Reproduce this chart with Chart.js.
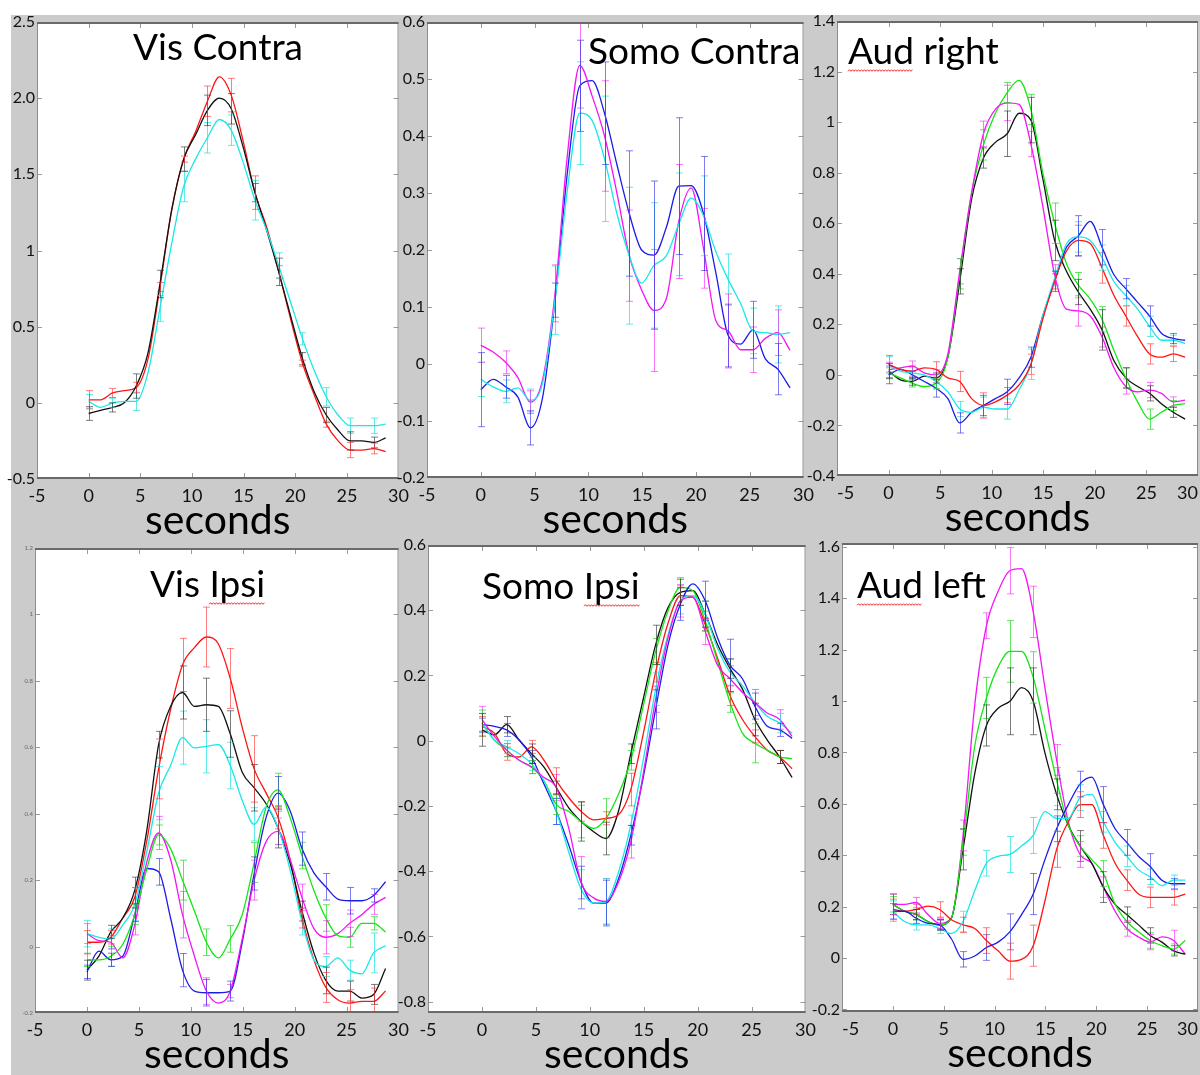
<!DOCTYPE html>
<html>
<head>
<meta charset="utf-8">
<script src="https://cdn.jsdelivr.net/npm/chart.js@4.4.1/dist/chart.umd.min.js"></script>
<style>
  html, body { margin: 0; padding: 0; width: 1200px; height: 1075px; overflow: hidden; background: #fff; }
  #sheet { position: absolute; left: 11px; top: 15px; width: 1189px; height: 1060px; background: #cbcbcb; }
  canvas { position: absolute; }
</style>
</head>
<body>
<div id="sheet"></div>
<script>
// ---- time axis (s) : samples every 1.15 s, error bars on every other sample (2.3 s TR)
const seconds = [0, 1.15, 2.3, 3.45, 4.6, 5.75, 6.9, 8.05, 9.2, 10.35, 11.5, 12.65, 13.8, 14.95, 16.1, 17.25, 18.4, 19.55, 20.7, 21.85, 23, 24.15, 25.3, 26.45, 27.6, 28.75];
const xTicks = [-5, 0, 5, 10, 15, 20, 25, 30];

// ---- Vis Contra
const visContraYTicks = [-0.5, 0, 0.5, 1, 1.5, 2, 2.5];
const visContraYLabels = ['-0.5', '0', '0.5', '1', '1.5', '2.0', '2.5'];
const visContraRed   = [0.02, 0.02, 0.065, 0.08, 0.1, 0.29, 0.76, 1.27, 1.6, 1.78, 1.98, 2.14, 2.02, 1.72, 1.38, 1.15, 0.86, 0.55, 0.26, 0.05, -0.14, -0.25, -0.31, -0.31, -0.30, -0.32];
const visContraBlack = [-0.07, -0.05, -0.03, 0.0, 0.11, 0.33, 0.78, 1.27, 1.6, 1.76, 1.92, 2.0, 1.93, 1.68, 1.38, 1.13, 0.86, 0.57, 0.29, 0.07, -0.08, -0.18, -0.25, -0.25, -0.26, -0.23];
const visContraCyan  = [0.01, -0.03, 0.0, 0.01, 0.01, 0.2, 0.62, 1.05, 1.42, 1.6, 1.74, 1.86, 1.79, 1.58, 1.33, 1.13, 0.9, 0.66, 0.42, 0.21, 0.04, -0.08, -0.15, -0.15, -0.15, -0.14];
const visContraRedErr   = [0.06, 0.03, 0.035, 0.03, 0.02, 0.1, 0.11, 0.11, 0.04, 0.02, 0.02, 0.05, 0.035];
const visContraBlackErr = [0.045, 0.03, 0.08, 0.09, 0.08, 0.1, 0.1, 0.06, 0.09, 0.04, 0.05, 0.06, 0.035];
const visContraCyanErr  = [0.045, 0.03, 0.06, 0.085, 0.1, 0.1, 0.1, 0.13, 0.085, 0.04, 0.06, 0.05, 0.05];

// ---- Somo Contra
const somoContraYTicks = [-0.2, -0.1, 0, 0.1, 0.2, 0.3, 0.4, 0.5, 0.6];
const somoContraYLabels = ['-0.2', '-0.1', '0', '0.1', '0.2', '0.3', '0.4', '0.5', '0.6'];
const somoContraMagenta = [0.033, 0.021, 0.003, -0.024, -0.067, -0.027, 0.124, 0.367, 0.524, 0.47, 0.40, 0.30, 0.19, 0.13, 0.094, 0.115, 0.25, 0.309, 0.203, 0.076, 0.058, 0.025, 0.025, 0.045, 0.055, 0.024];
const somoContraBlue    = [-0.045, -0.027, -0.04, -0.058, -0.112, -0.058, 0.112, 0.336, 0.488, 0.497, 0.44, 0.35, 0.264, 0.2, 0.191, 0.24, 0.312, 0.313, 0.264, 0.16, 0.05, 0.035, 0.06, 0.009, -0.009, -0.042];
const somoContraCyan    = [-0.027, -0.04, -0.048, -0.042, -0.064, -0.033, 0.112, 0.306, 0.44, 0.427, 0.36, 0.264, 0.19, 0.142, 0.173, 0.19, 0.245, 0.291, 0.26, 0.197, 0.148, 0.106, 0.058, 0.055, 0.052, 0.055];
const somoContraMagentaErr = [0.03, 0.02, 0.02, 0.05, 0.075, 0.097, 0.08, 0.107, 0.1, 0.07, 0.065, 0.04, 0.04];
const somoContraBlueErr    = [0.065, 0.02, 0.03, 0.03, 0.08, 0.09, 0.11, 0.13, 0.12, 0.1, 0.055, 0.05, 0.045];
const somoContraCyanErr    = [0.03, 0.02, 0.02, 0.06, 0.09, 0.11, 0.12, 0.11, 0.09, 0.07, 0.045, 0.04, 0.05];

// ---- Aud right
const audRightYTicks = [-0.4, -0.2, 0, 0.2, 0.4, 0.6, 0.8, 1, 1.2, 1.4];
const audRightYLabels = ['-0.4', '-0.2', '0', '0.2', '0.4', '0.6', '0.8', '1', '1.2', '1.4'];
const audRightGreen   = [0.008, -0.012, -0.033, -0.046, -0.033, 0.07, 0.40, 0.72, 0.91, 1.035, 1.117, 1.165, 1.05, 0.80, 0.60, 0.44, 0.355, 0.30, 0.22, 0.097, -0.012, -0.107, -0.175, -0.148, -0.121, -0.114];
const audRightMagenta = [0.02, 0.028, 0.035, 0.008, 0.0, 0.083, 0.41, 0.72, 0.954, 1.05, 1.076, 1.07, 0.913, 0.668, 0.396, 0.26, 0.253, 0.233, 0.15, 0.028, -0.046, -0.067, -0.06, -0.073, -0.107, -0.10];
const audRightBlack   = [0.015, -0.02, -0.026, -0.005, -0.012, 0.07, 0.37, 0.695, 0.858, 0.92, 0.954, 1.035, 1.008, 0.777, 0.532, 0.41, 0.328, 0.26, 0.178, 0.056, -0.012, -0.046, -0.073, -0.114, -0.148, -0.175];
const audRightRed     = [0.042, 0.022, 0.015, 0.028, 0.022, -0.012, -0.026, -0.094, -0.121, -0.107, -0.08, -0.04, 0.042, 0.22, 0.37, 0.49, 0.532, 0.52, 0.423, 0.314, 0.233, 0.151, 0.083, 0.07, 0.083, 0.07];
const audRightBlue    = [0.0, 0.022, 0.0, -0.026, -0.053, -0.094, -0.19, -0.148, -0.121, -0.094, -0.067, -0.012, 0.07, 0.233, 0.37, 0.505, 0.55, 0.607, 0.505, 0.396, 0.341, 0.287, 0.233, 0.165, 0.144, 0.137];
const audRightCyan    = [0.042, 0.015, 0.008, 0.0, -0.026, -0.067, -0.135, -0.148, -0.128, -0.135, -0.135, -0.06, 0.042, 0.233, 0.382, 0.518, 0.546, 0.532, 0.464, 0.369, 0.314, 0.26, 0.192, 0.137, 0.137, 0.124];
const audRightGreenErr   = [0.02, 0.015, 0.02, 0.06, 0.06, 0.04, 0.06, 0.08, 0.05, 0.05, 0.04, 0.04, 0.02];
const audRightMagentaErr = [0.03, 0.02, 0.02, 0.05, 0.05, 0.07, 0.05, 0.04, 0.06, 0.04, 0.03, 0.03, 0.02];
const audRightBlackErr   = [0.03, 0.015, 0.02, 0.05, 0.04, 0.09, 0.09, 0.08, 0.05, 0.08, 0.04, 0.03, 0.02];
const audRightRedErr     = [0.035, 0.02, 0.03, 0.04, 0.05, 0.03, 0.04, 0.03, 0.06, 0.06, 0.04, 0.04, 0.03];
const audRightBlueErr    = [0.035, 0.015, 0.035, 0.04, 0.04, 0.05, 0.04, 0.04, 0.08, 0.07, 0.04, 0.04, 0.02];
const audRightCyanErr    = [0.03, 0.02, 0.03, 0.03, 0.04, 0.04, 0.06, 0.03, 0.06, 0.05, 0.04, 0.04, 0.02];

// ---- Vis Ipsi
const visIpsiYTicks = [-0.2, 0, 0.2, 0.4, 0.6, 0.8, 1, 1.2];
const visIpsiYLabels = ['-0.2', '0', '0.2', '0.4', '0.6', '0.8', '1', '1.2'];
const visIpsiRed     = [0.013, 0.013, 0.028, 0.086, 0.148, 0.316, 0.535, 0.713, 0.848, 0.90, 0.932, 0.911, 0.807, 0.66, 0.535, 0.462, 0.389, 0.263, 0.086, -0.04, -0.123, -0.16, -0.17, -0.165, -0.165, -0.134];
const visIpsiBlack   = [-0.071, -0.029, 0.044, 0.086, 0.169, 0.347, 0.608, 0.723, 0.765, 0.723, 0.728, 0.723, 0.64, 0.525, 0.478, 0.43, 0.357, 0.253, 0.107, -0.019, -0.102, -0.134, -0.134, -0.155, -0.144, -0.066];
const visIpsiCyan    = [0.039, 0.028, 0.023, 0.065, 0.127, 0.284, 0.462, 0.545, 0.629, 0.598, 0.603, 0.608, 0.545, 0.44, 0.368, 0.42, 0.357, 0.232, 0.075, -0.04, -0.06, -0.034, -0.071, -0.082, -0.019, 0.002];
const visIpsiGreen   = [-0.04, -0.04, -0.029, 0.007, 0.096, 0.232, 0.336, 0.295, 0.20, 0.107, 0.013, -0.034, 0.023, 0.096, 0.253, 0.42, 0.472, 0.389, 0.274, 0.169, 0.086, 0.033, 0.028, 0.07, 0.07, 0.044];
const visIpsiMagenta = [0.039, 0.018, 0.013, -0.034, 0.065, 0.253, 0.342, 0.263, 0.096, -0.029, -0.134, -0.17, -0.134, 0.023, 0.20, 0.316, 0.347, 0.263, 0.148, 0.054, 0.028, 0.039, 0.07, 0.096, 0.127, 0.148];
const visIpsiBlue    = [-0.076, -0.014, -0.04, -0.029, 0.096, 0.235, 0.225, 0.086, -0.071, -0.134, -0.139, -0.139, -0.134, 0.013, 0.22, 0.389, 0.462, 0.41, 0.295, 0.222, 0.18, 0.143, 0.138, 0.138, 0.154, 0.195];
const visIpsiRedErr     = [0.035, 0.02, 0.03, 0.09, 0.08, 0.09, 0.09, 0.1, 0.035, 0.03, 0.045, 0.04, 0.04];
const visIpsiBlackErr   = [0.03, 0.02, 0.04, 0.04, 0.08, 0.08, 0.07, 0.07, 0.06, 0.03, 0.04, 0.03, 0.03];
const visIpsiCyanErr    = [0.04, 0.03, 0.05, 0.08, 0.08, 0.08, 0.07, 0.05, 0.05, 0.04, 0.03, 0.03, 0.06];
const visIpsiGreenErr   = [0.02, 0.03, 0.03, 0.03, 0.06, 0.04, 0.04, 0.06, 0.05, 0.04, 0.04, 0.03, 0.02];
const visIpsiMagentaErr = [0.03, 0.02, 0.03, 0.05, 0.07, 0.04, 0.02, 0.06, 0.04, 0.04, 0.05, 0.04, 0.03];
const visIpsiBlueErr    = [0.02, 0.02, 0.02, 0.04, 0.05, 0.04, 0.03, 0.05, 0.05, 0.05, 0.04, 0.04, 0.02];

// ---- Somo Ipsi
const somoIpsiYTicks = [-0.8, -0.6, -0.4, -0.2, 0, 0.2, 0.4, 0.6];
const somoIpsiYLabels = ['-0.8', '-0.6', '-0.4', '-0.2', '0', '0.2', '0.4', '0.6'];
const somoIpsiRed     = [0.044, 0.023, -0.04, -0.05, -0.019, -0.06, -0.123, -0.175, -0.217, -0.243, -0.238, -0.227, -0.15, 0.02, 0.21, 0.36, 0.445, 0.44, 0.356, 0.252, 0.138, 0.065, 0.013, -0.029, -0.05, -0.086];
const somoIpsiGreen   = [0.054, 0.002, -0.029, -0.06, -0.081, -0.123, -0.196, -0.217, -0.248, -0.269, -0.238, -0.165, -0.06, 0.106, 0.273, 0.398, 0.47, 0.46, 0.367, 0.242, 0.117, 0.023, -0.008, -0.029, -0.05, -0.055];
const somoIpsiBlack   = [0.033, 0.018, 0.049, 0.002, -0.04, -0.081, -0.144, -0.206, -0.248, -0.279, -0.30, -0.217, -0.04, 0.127, 0.294, 0.408, 0.455, 0.46, 0.388, 0.294, 0.221, 0.158, 0.065, 0.002, -0.05, -0.113];
const somoIpsiBlue    = [0.049, 0.044, 0.033, 0.002, -0.05, -0.133, -0.217, -0.32, -0.435, -0.498, -0.498, -0.425, -0.29, -0.113, 0.096, 0.294, 0.419, 0.481, 0.429, 0.315, 0.231, 0.19, 0.106, 0.044, 0.033, 0.007];
const somoIpsiCyan    = [0.054, 0.002, -0.019, -0.04, -0.071, -0.123, -0.217, -0.342, -0.456, -0.498, -0.493, -0.404, -0.258, -0.06, 0.158, 0.325, 0.429, 0.445, 0.388, 0.283, 0.21, 0.169, 0.117, 0.075, 0.054, 0.023];
const somoIpsiMagenta = [0.065, 0.013, -0.029, -0.06, -0.081, -0.113, -0.144, -0.269, -0.435, -0.482, -0.493, -0.435, -0.31, -0.102, 0.127, 0.315, 0.429, 0.44, 0.335, 0.231, 0.19, 0.148, 0.117, 0.085, 0.065, 0.013];
const somoIpsiRedErr     = [0.03, 0.02, 0.02, 0.04, 0.03, 0.02, 0.05, 0.03, 0.03, 0.02, 0.03, 0.02, 0.02];
const somoIpsiGreenErr   = [0.04, 0.02, 0.02, 0.03, 0.05, 0.06, 0.03, 0.04, 0.03, 0.03, 0.03, 0.06, 0.02];
const somoIpsiBlackErr   = [0.05, 0.025, 0.03, 0.02, 0.06, 0.05, 0.03, 0.06, 0.04, 0.04, 0.03, 0.05, 0.02];
const somoIpsiBlueErr    = [0.02, 0.02, 0.02, 0.04, 0.05, 0.07, 0.03, 0.06, 0.05, 0.06, 0.08, 0.04, 0.02];
const somoIpsiCyanErr    = [0.03, 0.02, 0.02, 0.04, 0.06, 0.07, 0.03, 0.05, 0.04, 0.04, 0.04, 0.04, 0.03];
const somoIpsiMagentaErr = [0.04, 0.02, 0.02, 0.04, 0.08, 0.07, 0.05, 0.04, 0.05, 0.04, 0.04, 0.04, 0.03];

// ---- Aud left
const audLeftYTicks = [-0.2, 0, 0.2, 0.4, 0.6, 0.8, 1, 1.2, 1.4, 1.6];
const audLeftYLabels = ['-0.2', '0', '0.2', '0.4', '0.6', '0.8', '1', '1.2', '1.4', '1.6'];
const audLeftMagenta = [0.209, 0.209, 0.216, 0.169, 0.135, 0.155, 0.477, 0.985, 1.293, 1.427, 1.507, 1.515, 1.347, 1.052, 0.771, 0.53, 0.403, 0.369, 0.276, 0.182, 0.115, 0.082, 0.062, 0.082, 0.068, 0.015];
const audLeftGreen   = [0.209, 0.182, 0.169, 0.142, 0.129, 0.155, 0.45, 0.825, 1.012, 1.133, 1.193, 1.193, 1.092, 0.892, 0.691, 0.517, 0.436, 0.383, 0.329, 0.209, 0.142, 0.102, 0.068, 0.048, 0.035, 0.068];
const audLeftBlack   = [0.209, 0.182, 0.169, 0.142, 0.129, 0.155, 0.423, 0.718, 0.905, 0.972, 0.999, 1.052, 0.999, 0.798, 0.637, 0.517, 0.436, 0.369, 0.276, 0.209, 0.169, 0.129, 0.088, 0.062, 0.028, 0.015];
const audLeftCyan    = [0.182, 0.142, 0.129, 0.129, 0.115, 0.095, 0.142, 0.262, 0.369, 0.396, 0.403, 0.436, 0.477, 0.57, 0.543, 0.543, 0.624, 0.637, 0.53, 0.45, 0.396, 0.343, 0.316, 0.282, 0.303, 0.303];
const audLeftBlue    = [0.182, 0.182, 0.155, 0.135, 0.129, 0.075, -0.005, 0.008, 0.041, 0.062, 0.102, 0.169, 0.249, 0.383, 0.503, 0.597, 0.677, 0.704, 0.597, 0.503, 0.45, 0.396, 0.356, 0.303, 0.289, 0.289];
const audLeftRed     = [0.189, 0.182, 0.189, 0.202, 0.189, 0.149, 0.129, 0.115, 0.068, 0.028, -0.012, -0.005, 0.048, 0.222, 0.423, 0.53, 0.597, 0.597, 0.477, 0.369, 0.303, 0.249, 0.236, 0.236, 0.236, 0.249];
const audLeftMagentaErr = [0.04, 0.02, 0.02, 0.06, 0.05, 0.09, 0.1, 0.06, 0.05, 0.04, 0.03, 0.03, 0.04];
const audLeftGreenErr   = [0.03, 0.02, 0.02, 0.05, 0.08, 0.12, 0.1, 0.05, 0.04, 0.05, 0.03, 0.03, 0.02];
const audLeftBlackErr   = [0.04, 0.02, 0.02, 0.08, 0.08, 0.13, 0.13, 0.06, 0.06, 0.06, 0.03, 0.03, 0.02];
const audLeftCyanErr    = [0.04, 0.02, 0.02, 0.04, 0.05, 0.07, 0.07, 0.05, 0.05, 0.04, 0.04, 0.03, 0.02];
const audLeftBlueErr    = [0.03, 0.02, 0.02, 0.03, 0.05, 0.07, 0.08, 0.05, 0.05, 0.07, 0.05, 0.05, 0.02];
const audLeftRedErr     = [0.04, 0.02, 0.03, 0.03, 0.05, 0.07, 0.08, 0.07, 0.05, 0.05, 0.04, 0.04, 0.03];

// ---- line colours (MATLAB-style primaries) and their lighter error-bar tints
const COLORS = {
  red:     ['#ff1414', 'rgba(255,40,40,0.6)'],
  black:   ['#111111', 'rgba(40,40,40,0.6)'],
  cyan:    ['#19e8e8', 'rgba(30,225,225,0.7)'],
  blue:    ['#1c1ce8', 'rgba(40,40,230,0.6)'],
  magenta: ['#f514f5', 'rgba(245,30,245,0.6)'],
  green:   ['#14e614', 'rgba(30,220,30,0.7)']
};

const FONT = 'Lato, "Open Sans", sans-serif';

// each panel: plot-area box [left, top, right, bottom] in page px, y range, ticks, series
const panels = [
  { title: 'Vis Contra', box: [37, 22, 403, 479], yRange: [-0.5, 2.5], yTicks: visContraYTicks, yLabels: visContraYLabels,
    titleAt: [96, 38], squiggle: null, xAlign: 'center', yFont: 16, yColor: '#111',
    series: [['cyan', visContraCyan, visContraCyanErr], ['black', visContraBlack, visContraBlackErr], ['red', visContraRed, visContraRedErr]] },
  { title: 'Somo Contra', box: [427, 22, 808, 478], yRange: [-0.2, 0.6], yTicks: somoContraYTicks, yLabels: somoContraYLabels,
    titleAt: [161, 42], squiggle: null, xAlign: 'center', yFont: 16, yColor: '#111',
    series: [['cyan', somoContraCyan, somoContraCyanErr], ['magenta', somoContraMagenta, somoContraMagentaErr], ['blue', somoContraBlue, somoContraBlueErr]] },
  { title: 'Aud right', box: [837, 21, 1198, 476], yRange: [-0.4, 1.4], yTicks: audRightYTicks, yLabels: audRightYLabels,
    titleAt: [11, 43], squiggle: 'Aud', xAlign: 'inner', yFont: 16, yColor: '#111',
    series: [['red', audRightRed, audRightRedErr], ['cyan', audRightCyan, audRightCyanErr], ['blue', audRightBlue, audRightBlueErr],
             ['magenta', audRightMagenta, audRightMagentaErr], ['green', audRightGreen, audRightGreenErr], ['black', audRightBlack, audRightBlackErr]] },
  { title: 'Vis Ipsi', box: [35, 548, 403, 1013], yRange: [-0.2, 1.2], yTicks: visIpsiYTicks, yLabels: visIpsiYLabels,
    titleAt: [115, 49], squiggle: 'Ipsi', xAlign: 'center', yFont: 6, yColor: '#666',
    series: [['cyan', visIpsiCyan, visIpsiCyanErr], ['green', visIpsiGreen, visIpsiGreenErr], ['magenta', visIpsiMagenta, visIpsiMagentaErr],
             ['blue', visIpsiBlue, visIpsiBlueErr], ['black', visIpsiBlack, visIpsiBlackErr], ['red', visIpsiRed, visIpsiRedErr]] },
  { title: 'Somo Ipsi', box: [428, 545, 810, 1013], yRange: [-0.835, 0.6], yTicks: somoIpsiYTicks, yLabels: somoIpsiYLabels,
    titleAt: [54, 54], squiggle: 'Ipsi', xAlign: 'center', yFont: 16, yColor: '#111',
    series: [['magenta', somoIpsiMagenta, somoIpsiMagentaErr], ['cyan', somoIpsiCyan, somoIpsiCyanErr], ['blue', somoIpsiBlue, somoIpsiBlueErr],
             ['green', somoIpsiGreen, somoIpsiGreenErr], ['red', somoIpsiRed, somoIpsiRedErr], ['black', somoIpsiBlack, somoIpsiBlackErr]] },
  { title: 'Aud left', box: [842, 543, 1198, 1012], yRange: [-0.21, 1.615], yTicks: audLeftYTicks, yLabels: audLeftYLabels,
    titleAt: [15, 55], squiggle: 'Aud', xAlign: 'inner', yFont: 16, yColor: '#111',
    series: [['cyan', audLeftCyan, audLeftCyanErr], ['blue', audLeftBlue, audLeftBlueErr], ['red', audLeftRed, audLeftRedErr],
             ['green', audLeftGreen, audLeftGreenErr], ['black', audLeftBlack, audLeftBlackErr], ['magenta', audLeftMagenta, audLeftMagentaErr]] }
];

// white plot field, error bars, frame with inward ticks and the in-plot title
const panelDecor = {
  id: 'panelDecor',
  beforeDraw(chart) {
    const a = chart.chartArea, ctx = chart.ctx;
    ctx.save();
    ctx.fillStyle = '#ffffff';
    ctx.fillRect(a.left, a.top, a.right - a.left, a.bottom - a.top);
    ctx.restore();
  },
  afterDatasetsDraw(chart, args, opts) {
    const { ctx, chartArea: a, scales: { x, y } } = chart;
    ctx.save();
    ctx.beginPath();
    ctx.rect(a.left, a.top, a.right - a.left, a.bottom - a.top);
    ctx.clip();
    ctx.lineWidth = 1;
    chart.data.datasets.forEach(ds => {
      ctx.strokeStyle = ds.errColor;
      ds.errors.forEach((e, k) => {
        const pt = ds.data[k * 2];
        const px = Math.round(x.getPixelForValue(pt.x)) + 0.5;
        const y1 = y.getPixelForValue(pt.y + e);
        const y2 = y.getPixelForValue(pt.y - e);
        ctx.beginPath();
        ctx.moveTo(px, y1); ctx.lineTo(px, y2);
        ctx.moveTo(px - 3.5, y1); ctx.lineTo(px + 3.5, y1);
        ctx.moveTo(px - 3.5, y2); ctx.lineTo(px + 3.5, y2);
        ctx.stroke();
      });
    });
    ctx.restore();

    ctx.save();
    // inward tick marks
    ctx.strokeStyle = '#9a9a9a';
    ctx.lineWidth = 1;
    ctx.beginPath();
    x.ticks.forEach(t => {
      if (t.value <= x.min || t.value >= x.max) return;
      const px = Math.round(x.getPixelForValue(t.value)) + 0.5;
      ctx.moveTo(px, a.top); ctx.lineTo(px, a.top + 6);
      ctx.moveTo(px, a.bottom); ctx.lineTo(px, a.bottom - 6);
    });
    y.ticks.forEach(t => {
      if (t.value <= y.min || t.value >= y.max) return;
      const py = Math.round(y.getPixelForValue(t.value)) + 0.5;
      ctx.moveTo(a.left, py); ctx.lineTo(a.left + 5, py);
      ctx.moveTo(a.right, py); ctx.lineTo(a.right - 5, py);
    });
    ctx.stroke();
    // frame
    ctx.strokeStyle = '#8c8c8c';
    ctx.lineWidth = 1;
    ctx.beginPath();
    ctx.moveTo(a.left + 0.5, a.top); ctx.lineTo(a.left + 0.5, a.bottom);
    ctx.moveTo(a.right - 0.5, a.top); ctx.lineTo(a.right - 0.5, a.bottom);
    ctx.stroke();
    ctx.strokeStyle = '#6a6a6a';
    ctx.lineWidth = 2;
    ctx.beginPath();
    ctx.moveTo(a.left, a.top + 1); ctx.lineTo(a.right, a.top + 1);
    ctx.moveTo(a.left, a.bottom - 1); ctx.lineTo(a.right, a.bottom - 1);
    ctx.stroke();
    // title
    ctx.font = '37px ' + FONT;
    ctx.fillStyle = '#000';
    ctx.textBaseline = 'alphabetic';
    ctx.textAlign = 'left';
    const tx = a.left + opts.titleAt[0], ty = a.top + opts.titleAt[1];
    ctx.fillText(opts.title, tx, ty);
    if (opts.squiggle) {
      // spell-checker style wavy underline
      const i = opts.title.indexOf(opts.squiggle);
      const sx = Math.round(tx + ctx.measureText(opts.title.slice(0, i)).width);
      const sw = ctx.measureText(opts.squiggle).width;
      const sy = Math.round(ty + 6) + 0.5;
      ctx.strokeStyle = '#f03030';
      ctx.lineWidth = 1;
      ctx.beginPath();
      for (let k = 0; k <= sw; k += 1.5) {
        const yy = sy + ((Math.round(k / 1.5) % 2) ? -0.8 : 0.8);
        if (k === 0) ctx.moveTo(sx + k, yy); else ctx.lineTo(sx + k, yy);
      }
      ctx.stroke();
    }
    ctx.restore();
  }
};

const AXIS_W = 40, AXIS_H = 62, PAD_T = 14, PAD_R = 12;

panels.forEach(p => {
  const [l, t, r, b] = p.box;
  const w = AXIS_W + (r - l) + PAD_R;
  const h = PAD_T + (b - t) + AXIS_H;
  const c = document.createElement('canvas');
  c.width = w; c.height = h;
  c.style.left = (l - AXIS_W) + 'px';
  c.style.top = (t - PAD_T) + 'px';
  c.style.width = w + 'px';
  c.style.height = h + 'px';
  document.body.appendChild(c);

  const datasets = p.series.map(([col, vals, errs]) => ({
    data: seconds.map((s, i) => ({ x: s, y: vals[i] })),
    errors: errs,
    errColor: COLORS[col][1],
    borderColor: COLORS[col][0],
    borderWidth: 1.3,
    pointRadius: 0,
    fill: false,
    cubicInterpolationMode: 'monotone'
  }));

  new Chart(c, {
    type: 'line',
    data: { datasets },
    options: {
      responsive: false,
      animation: false,
      devicePixelRatio: 1,
      layout: { padding: { top: PAD_T, right: PAD_R, left: 0, bottom: 0 } },
      plugins: {
        legend: { display: false },
        tooltip: { enabled: false },
        panelDecor: { title: p.title, titleAt: p.titleAt, squiggle: p.squiggle }
      },
      scales: {
        x: {
          type: 'linear', position: 'bottom', min: -5, max: 30,
          afterBuildTicks: s => { s.ticks = xTicks.map(v => ({ value: v })); },
          afterFit: s => { s.height = AXIS_H; },
          grid: { display: false, drawTicks: false },
          border: { display: false },
          ticks: { font: { family: FONT, size: 18 }, color: '#111', padding: 6, maxRotation: 0, autoSkip: false, align: p.xAlign,
                   callback: v => String(v) },
          title: { display: true, text: 'seconds', color: '#000', padding: 0, font: { family: FONT, size: 41, lineHeight: 1 } }
        },
        y: {
          type: 'linear', min: p.yRange[0], max: p.yRange[1],
          afterBuildTicks: s => { s.ticks = p.yTicks.map(v => ({ value: v })); },
          afterFit: s => { s.width = AXIS_W; },
          grid: { display: false, drawTicks: false },
          border: { display: false },
          ticks: { font: { family: FONT, size: p.yFont }, color: p.yColor, padding: 2, autoSkip: false,
                   callback: (v, i) => p.yLabels[i] }
        }
      }
    },
    plugins: [panelDecor]
  });
});
</script>
</body>
</html>
